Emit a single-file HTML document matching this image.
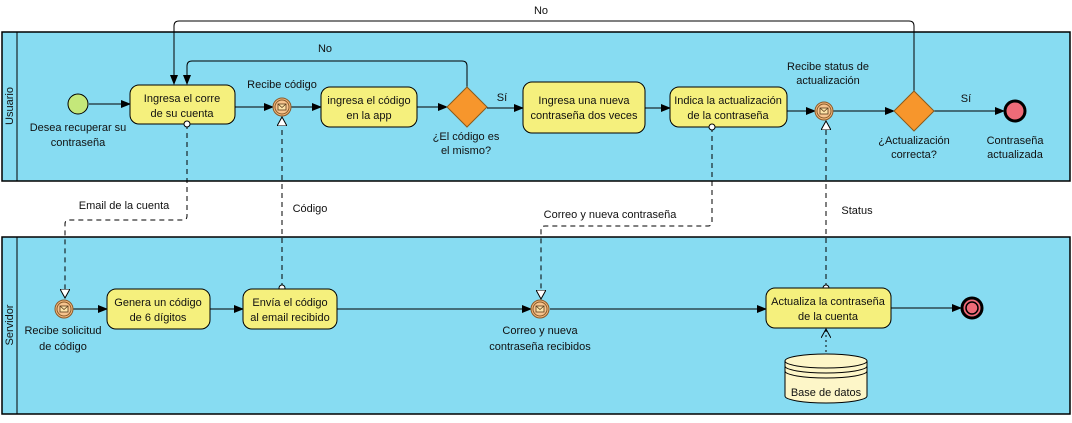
<!DOCTYPE html>
<html><head><meta charset="utf-8"><style>
html,body{margin:0;padding:0;background:#fff;}
svg text{font-family:"Liberation Sans",Arial,sans-serif;font-size:11px;fill:#111;}
</style></head><body>
<svg width="1072" height="418" viewBox="0 0 1072 418" xmlns="http://www.w3.org/2000/svg">
<defs>
<marker id="ar" markerWidth="10" markerHeight="8" refX="9" refY="4" orient="auto" markerUnits="userSpaceOnUse"><path d="M0,0 L10,4 L0,8 z" fill="#000"/></marker>
<marker id="oa" markerWidth="10" markerHeight="10" refX="9" refY="5" orient="auto" markerUnits="userSpaceOnUse"><path d="M0,0 L9,5 L0,10 z" fill="#fff" stroke="#000"/></marker>
<marker id="oc" markerWidth="8" markerHeight="8" refX="4" refY="4" orient="auto" markerUnits="userSpaceOnUse"><circle cx="4" cy="4" r="3" fill="#fff" stroke="#000"/></marker>
<marker id="va" markerWidth="10" markerHeight="10" refX="9" refY="5" orient="auto" markerUnits="userSpaceOnUse"><path d="M0,0 L9,5 L0,10" fill="none" stroke="#000"/></marker>
<g id="msg"><circle r="9" fill="#f2b77a" stroke="#8a5a2a"/><circle r="7" fill="#f6c48e" stroke="#8a5a2a"/><rect x="-4" y="-3" width="8" height="6" fill="#fde3a8" stroke="#5a3a1a" stroke-width="0.8"/><path d="M-4,-3 L0,0.5 L4,-3" fill="none" stroke="#5a3a1a" stroke-width="0.8"/></g>
</defs>
<!-- pools -->
<rect x="2" y="32" width="1068" height="149" fill="#87dcf2" stroke="#000" stroke-width="1.5"/>
<line x1="17" y1="32" x2="17" y2="181" stroke="#000"/>
<text transform="translate(13,106) rotate(-90)" text-anchor="middle">Usuario</text>
<rect x="2" y="237" width="1068" height="177" fill="#87dcf2" stroke="#000" stroke-width="1.5"/>
<line x1="17" y1="237" x2="17" y2="414" stroke="#000"/>
<text transform="translate(13,325) rotate(-90)" text-anchor="middle">Servidor</text>

<!-- loops -->
<path d="M914,91 L914,26 Q914,21 909,21 L179,21 Q174,21 174,26 L174,84" fill="none" stroke="#000" marker-end="url(#ar)"/>
<text x="541" y="14" text-anchor="middle">No</text>
<path d="M467,87 L467,66 Q467,61 462,61 L192,61 Q187,61 187,66 L187,84" fill="none" stroke="#000" marker-end="url(#ar)"/>
<text x="325" y="52" text-anchor="middle">No</text>

<!-- pool1 flows -->
<line x1="89" y1="104" x2="130" y2="104" stroke="#000" marker-end="url(#ar)"/>
<line x1="235" y1="107" x2="273" y2="107" stroke="#000" marker-end="url(#ar)"/>
<line x1="291" y1="107" x2="321" y2="107" stroke="#000" marker-end="url(#ar)"/>
<line x1="417" y1="107" x2="447" y2="107" stroke="#000" marker-end="url(#ar)"/>
<line x1="487" y1="108" x2="523" y2="108" stroke="#000" marker-end="url(#ar)"/>
<text x="502" y="101" text-anchor="middle">Sí</text>
<line x1="645" y1="108" x2="670" y2="108" stroke="#000" marker-end="url(#ar)"/>
<line x1="787" y1="111" x2="815" y2="111" stroke="#000" marker-end="url(#ar)"/>
<line x1="833" y1="111" x2="894" y2="111" stroke="#000" marker-end="url(#ar)"/>
<line x1="934" y1="111" x2="1004" y2="111" stroke="#000" marker-end="url(#ar)"/>
<text x="966" y="102" text-anchor="middle">Sí</text>

<!-- pool1 nodes -->
<circle cx="78" cy="104" r="10" fill="#c4e87a" stroke="#000"/>
<text x="78" y="131" text-anchor="middle">Desea recuperar su</text>
<text x="78" y="146" text-anchor="middle">contraseña</text>
<rect x="130" y="85" width="105" height="39" rx="9" fill="#f5f07d" stroke="#000"/>
<text x="182" y="102" text-anchor="middle">Ingresa el corre</text>
<text x="182" y="117" text-anchor="middle">de su cuenta</text>
<use href="#msg" x="282" y="107"/>
<text x="282" y="88" text-anchor="middle">Recibe código</text>
<rect x="321" y="87" width="96" height="40" rx="9" fill="#f5f07d" stroke="#000"/>
<text x="369" y="104" text-anchor="middle">ingresa el código</text>
<text x="369" y="119" text-anchor="middle">en la app</text>
<polygon points="467,87 487,107 467,127 447,107" fill="#f7962c" stroke="#8a5a1a"/>
<text x="466" y="140" text-anchor="middle">¿El código es</text>
<text x="466" y="154" text-anchor="middle">el mismo?</text>
<rect x="523" y="82" width="122" height="51" rx="9" fill="#f5f07d" stroke="#000"/>
<text x="584" y="104" text-anchor="middle">Ingresa una nueva</text>
<text x="584" y="119" text-anchor="middle">contraseña dos veces</text>
<rect x="670" y="87" width="117" height="40" rx="9" fill="#f5f07d" stroke="#000"/>
<text x="728" y="104" text-anchor="middle">Indica la actualización</text>
<text x="728" y="119" text-anchor="middle">de la contraseña</text>
<use href="#msg" x="824" y="111"/>
<text x="828" y="70" text-anchor="middle">Recibe status de</text>
<text x="828" y="84" text-anchor="middle">actualización</text>
<polygon points="914,91 934,111 914,131 894,111" fill="#f7962c" stroke="#8a5a1a"/>
<text x="914" y="144" text-anchor="middle">¿Actualización</text>
<text x="914" y="158" text-anchor="middle">correcta?</text>
<circle cx="1015" cy="111" r="10" fill="#ee6b78" stroke="#000" stroke-width="3"/>
<text x="1015" y="144" text-anchor="middle">Contraseña</text>
<text x="1015" y="158" text-anchor="middle">actualizada</text>

<!-- message flows (dashed) -->
<g fill="none" stroke="#000" stroke-dasharray="5,4">
<path d="M187,124 L187,216 Q187,220 183,220 L69,220 Q65,220 65,224 L65,298" marker-start="url(#oc)" marker-end="url(#oa)"/>
<path d="M282,288 L282,117" marker-start="url(#oc)" marker-end="url(#oa)"/>
<path d="M712,127 L712,222 Q712,226 708,226 L545,226 Q541,226 541,230 L541,299" marker-start="url(#oc)" marker-end="url(#oa)"/>
<path d="M826,288 L826,121" marker-start="url(#oc)" marker-end="url(#oa)"/>
</g>
<text x="124" y="209" text-anchor="middle">Email de la cuenta</text>
<text x="310" y="212" text-anchor="middle">Código</text>
<text x="610" y="218" text-anchor="middle">Correo y nueva contraseña</text>
<text x="857" y="214" text-anchor="middle">Status</text>
<path d="M826,352 L826,329" fill="none" stroke="#000" stroke-dasharray="2,3" marker-end="url(#va)"/>

<!-- pool2 flows -->
<line x1="73" y1="309" x2="107" y2="309" stroke="#000" marker-end="url(#ar)"/>
<line x1="210" y1="309" x2="243" y2="309" stroke="#000" marker-end="url(#ar)"/>
<line x1="337" y1="309" x2="531" y2="309" stroke="#000" marker-end="url(#ar)"/>
<line x1="550" y1="309" x2="766" y2="309" stroke="#000" marker-end="url(#ar)"/>
<line x1="891" y1="308" x2="961" y2="308" stroke="#000" marker-end="url(#ar)"/>

<!-- pool2 nodes -->
<use href="#msg" x="64" y="309"/>
<text x="63" y="334" text-anchor="middle">Recibe solicitud</text>
<text x="63" y="350" text-anchor="middle">de código</text>
<rect x="107" y="289" width="103" height="40" rx="9" fill="#f5f07d" stroke="#000"/>
<text x="158" y="306" text-anchor="middle">Genera un código</text>
<text x="158" y="321" text-anchor="middle">de 6 dígitos</text>
<rect x="243" y="289" width="94" height="40" rx="9" fill="#f5f07d" stroke="#000"/>
<text x="290" y="306" text-anchor="middle">Envía el código</text>
<text x="290" y="321" text-anchor="middle">al email recibido</text>
<use href="#msg" x="540" y="309"/>
<text x="540" y="334" text-anchor="middle">Correo y nueva</text>
<text x="540" y="350" text-anchor="middle">contraseña recibidos</text>
<rect x="766" y="288" width="125" height="40" rx="9" fill="#f5f07d" stroke="#000"/>
<text x="828" y="305" text-anchor="middle">Actualiza la contraseña</text>
<text x="828" y="320" text-anchor="middle">de la cuenta</text>
<circle cx="972" cy="308" r="10" fill="#ee6b78" stroke="#000" stroke-width="3"/>
<circle cx="972" cy="308" r="6" fill="none" stroke="#000" stroke-width="1.5"/>
<!-- database -->
<path d="M785,361 L785,396 A41,7 0 0 0 867,396 L867,361" fill="#fdf6c8" stroke="#000"/>
<ellipse cx="826" cy="361" rx="41" ry="7" fill="#fdf6c8" stroke="#000"/>
<path d="M785,366 A41,7 0 0 0 867,366 M785,371 A41,7 0 0 0 867,371" fill="none" stroke="#000"/>
<text x="826" y="396" text-anchor="middle">Base de datos</text>
</svg>
</body></html>
